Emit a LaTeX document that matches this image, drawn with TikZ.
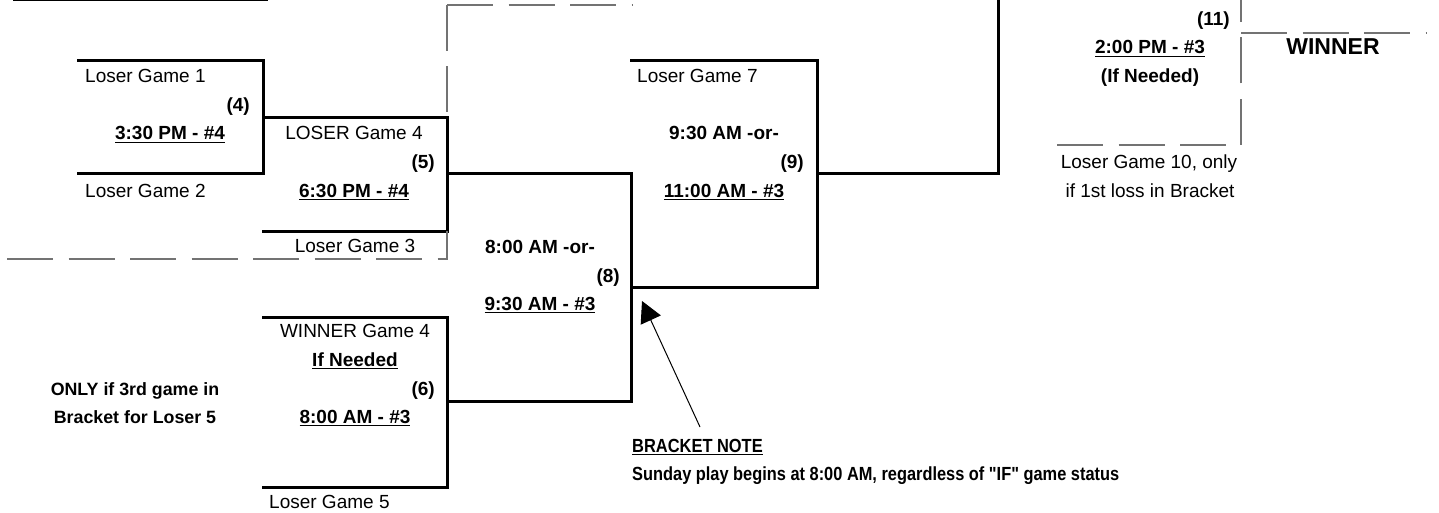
\documentclass[tikz,border=0pt]{standalone}
\usepackage{fontspec}
\setmainfont{Liberation Sans}
\newfontfamily\nomapfont{Liberation Sans}
\usetikzlibrary{arrows.meta}
\newcommand{\myul}[1]{\setbox0\hbox{#1}\rlap{\rule[-3.3pt]{\wd0}{1.3pt}}\box0}
\begin{document}
\begin{tikzpicture}[x=1pt,y=-1pt,
  br/.style={line width=3pt, line join=miter},
  dsh/.style={line width=1.4pt, draw=black!55, dash pattern=on 46pt off 15.5pt},
  lbl/.style={inner sep=0pt, font=\fontsize{19}{23}\selectfont, anchor=base},
  bl/.style={lbl, font=\fontsize{19}{23}\selectfont\bfseries},
  sbl/.style={lbl, font=\fontsize{17.8}{21}\selectfont\bfseries},
]
\useasboundingbox (0,0) rectangle (1439,513);
% bracket coordinates
\coordinate (a1) at (77,61);   \coordinate (a2) at (77,174);
\coordinate (b1) at (263,118); \coordinate (b2) at (262,231);
\coordinate (c1) at (447,174); \coordinate (c2) at (447,401);
\coordinate (d1) at (262,317); \coordinate (d2) at (262,487);
\coordinate (e1) at (630,61);  \coordinate (e2) at (631,287);
\coordinate (f1) at (817,174); \coordinate (f2) at (998,-6);
\coordinate (top1) at (13,0);  \coordinate (top2) at (268,0);
% game 4
\draw[br] (a1) -| (b1 |- a2) -- (a2);
% game 5
\draw[br] (b1) -| (c1 |- b2) -- (b2);
% game 6
\draw[br] (d1) -| (c2 |- d2) -- (d2);
% game 8
\draw[br] (c1) -| (e2 |- c2) -- (c2);
% game 9
\draw[br] (e1) -| (f1 |- e2) -- (e2);
% to game 10
\draw[br] (f1) -| (f2);
\draw[br] (top1) -- (top2);
% dashed lines
\coordinate (g1) at (7,259);   \coordinate (g2) at (447,259); \coordinate (g3) at (447,231);
\draw[dsh] (g1) -- (g2) -- (g3);
\coordinate (h1) at (447,117); \coordinate (h2) at (447,5); \coordinate (h3) at (633,5);
\draw[dsh] (h2) -- (h1);
\draw[dsh] (h2) -- (h3);
\coordinate (k1) at (1057,145); \coordinate (k2) at (1241,145); \coordinate (k3) at (1241,-3);
\coordinate (k4) at (1241,33); \coordinate (k5) at (1426,33);
\draw[dsh] (k1) -- (k2);
\draw[dsh] (k2) -- (k3);
\draw[dsh] (k4) -- (k5);
% labels
\node[lbl, anchor=base west] (l1) at (85,83) {Loser Game 1};
\node[bl, anchor=base east] (g4) at (250,112) {(4)};
\node[bl] (t4) at (170,140) {\myul{3:30 PM - \#4}};
\node[lbl, anchor=base west] (l2) at (85,197) {Loser Game 2};
\node[lbl] (l4) at (354,140) {LOSER Game 4};
\node[bl, anchor=base east] (g5) at (435,169) {(5)};
\node[bl] (t5) at (354,197) {\myul{6:30 PM - \#4}};
\node[lbl] (l3) at (355,252) {Loser Game 3};
\node[lbl] (w4) at (355,337) {WINNER Game 4};
\node[bl] (ifn) at (355,366) {\myul{If Needed}};
\node[bl, anchor=base east] (g6) at (435,395) {(6)};
\node[bl] (t6) at (355,423) {\myul{8:00 AM - \#3}};
\node[lbl, anchor=base west] (l5) at (269,508) {Loser Game 5};
\node[sbl] (o1) at (135,395) {ONLY if 3rd game in};
\node[sbl] (o2) at (135,423) {Bracket for Loser 5};
\node[bl] (t8a) at (540,253) {8:00 AM -or-};
\node[bl, anchor=base east] (g8) at (620,282) {(8)};
\node[bl] (t8b) at (540,310) {\myul{9:30 AM - \#3}};
\node[lbl, anchor=base west] (l7) at (637,83) {Loser Game 7};
\node[bl] (t9a) at (724,140) {9:30 AM -or-};
\node[bl, anchor=base east] (g9) at (804,168) {(9)};
\node[bl] (t9b) at (724,197) {\myul{11:00 AM - \#3}};
\node[bl, anchor=base east] (g11) at (1230,26) {(11)};
\node[bl] (t11) at (1150,54) {\myul{2:00 PM - \#3}};
\node[bl] (t11b) at (1150,83) {(If Needed)};
\node[bl, font=\fontsize{23}{27}\selectfont\bfseries] (win) at (1333,55) {WINNER};
\node[lbl] (l10a) at (1149,168) {Loser Game 10, only};
\node[lbl] (l10b) at (1150,197) {if 1st loss in Bracket};
\node[bl, anchor=base west] (bn) at (632,452) {\scalebox{0.865}[1]{\myul{BRACKET NOTE}}};
\node[bl, anchor=base west, font=\fontsize{19}{23}\nomapfont\bfseries] (sn) at (632,480) {\scalebox{0.862}[1]{Sunday play begins at 8:00 AM, regardless of "IF" game status}};
% arrow
\coordinate (arT) at (700,427); \coordinate (arH) at (642,301);
\draw[line width=1pt, -{Triangle[length=21pt,width=22pt]}] (arT) -- (arH);
\end{tikzpicture}
\end{document}
